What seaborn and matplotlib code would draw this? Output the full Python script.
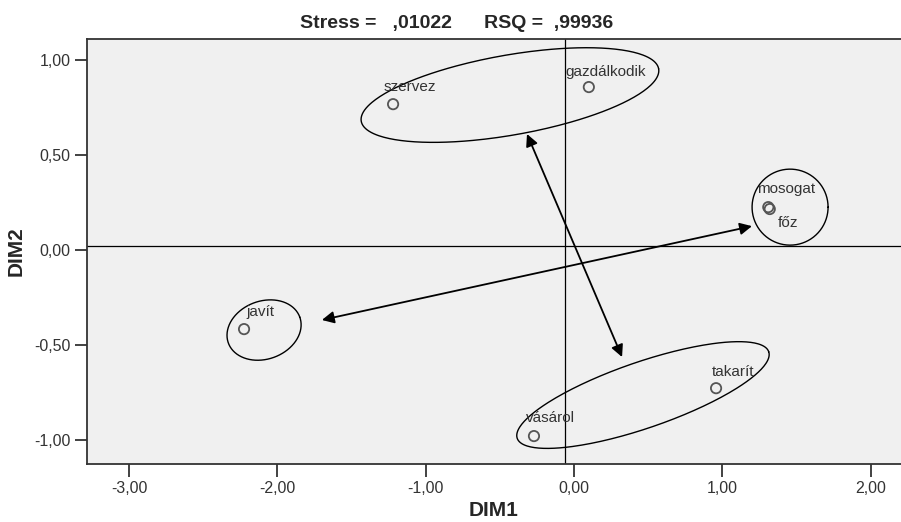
import matplotlib
matplotlib.use("Agg")
import matplotlib.pyplot as plt
import seaborn as sns
import pandas as pd
import numpy as np

# MDS coordinates
labels = ['szervez', 'gazdálkodik', 'mosogat', 'főz', 'javít', 'takarít', 'vásárol']
dim1 = [-1.22, 0.10, 1.31, 1.32, -2.225, 0.958, -0.27]
dim2 = [0.768, 0.858, 0.226, 0.216, -0.416, -0.727, -0.979]
label_offsets = [(12, 12), (12, 11), (13, 13), (13, -10), (12, 12), (12, 12), (12, 13)]

# group ellipses: centre (data), semi axes (px), angle (deg)
ell_cx = [-0.432, 1.457, -2.09, 0.465]
ell_cy = [0.816, 0.226, -0.421, -0.763]
ell_a = [151, 38, 38, 133]
ell_b = [40, 38, 29, 33]
ell_ang = [10, 0, 20, 19]

# double headed arrows
arr_start = [(-1.70, -0.368), (-0.317, 0.611)]
arr_end = [(1.20, 0.126), (0.324, -0.563)]

ref_x = -0.06
ref_y = 0.02

df = pd.DataFrame({'DIM1': dim1, 'DIM2': dim2, 'label': labels})

sns.set_style('ticks', {'axes.facecolor': '#f0f0f0', 'axes.edgecolor': '#333333'})
plt.rcParams['font.family'] = ['Liberation Sans', 'DejaVu Sans']

W, H = 901, 522
fig = plt.figure(figsize=(W / 100, H / 100), dpi=100)
ax = fig.add_axes([87 / W, (H - 464) / H, (W - 87) / W, (464 - 39) / H])
ax.set_xlim(-3.284, 2.205)
ax.set_ylim(-1.126, 1.111)

ax.axvline(ref_x, color='black', lw=0.9, zorder=1)
ax.axhline(ref_y, color='black', lw=0.9, zorder=1)

sns.scatterplot(data=df, x='DIM1', y='DIM2', ax=ax, marker='o', s=55,
                facecolor='none', edgecolor='#555555', linewidth=1.3, zorder=3)

for lab, x, y, off in zip(labels, dim1, dim2, label_offsets):
    ax.annotate(lab, (x, y), xytext=off, textcoords='offset points',
                ha='center', va='center', fontsize=11, color='#333333')

# pixels per data unit
sx = ax.get_position().width * W / (ax.get_xlim()[1] - ax.get_xlim()[0])
sy = ax.get_position().height * H / (ax.get_ylim()[1] - ax.get_ylim()[0])
t = np.linspace(0, 2 * np.pi, 300)
for cx, cy, a, b, ang in zip(ell_cx, ell_cy, ell_a, ell_b, ell_ang):
    th = np.deg2rad(ang)
    px = a * np.cos(t) * np.cos(th) - b * np.sin(t) * np.sin(th)
    py = a * np.cos(t) * np.sin(th) + b * np.sin(t) * np.cos(th)
    ax.plot(cx + px / sx, cy + py / sy, color='black', lw=1.0, zorder=2)

for s, e in zip(arr_start, arr_end):
    ax.annotate('', xy=e, xytext=s,
                arrowprops=dict(arrowstyle='<|-|>', color='black', lw=1.3,
                                mutation_scale=18, shrinkA=0, shrinkB=0))

ticks_x = [-3, -2, -1, 0, 1, 2]
ticks_y = [-1, -0.5, 0, 0.5, 1]
ax.set_xticks(ticks_x)
ax.set_xticklabels([f'{v:.2f}'.replace('.', ',') for v in ticks_x])
ax.set_yticks(ticks_y)
ax.set_yticklabels([f'{v:.2f}'.replace('.', ',') for v in ticks_y])
ax.tick_params(axis='both', length=9, width=1.3, color='#333333', labelsize=11.5,
               labelcolor='#333333', pad=3)

for side in ['left', 'bottom', 'top']:
    ax.spines[side].set_visible(True)
    ax.spines[side].set_linewidth(1.3)
    ax.spines[side].set_color('#333333')
ax.spines['right'].set_visible(False)

ax.set_xlabel('DIM1', fontsize=15, fontweight='bold', labelpad=4)
ax.set_ylabel('DIM2', fontsize=15, fontweight='bold', labelpad=6)
fig.text(457 / W, 1 - 24 / H, 'Stress =   ,01022      RSQ =  ,99936', ha='center', va='center',
         fontsize=14, fontweight='bold')

fig.savefig('out.png', dpi=100)
